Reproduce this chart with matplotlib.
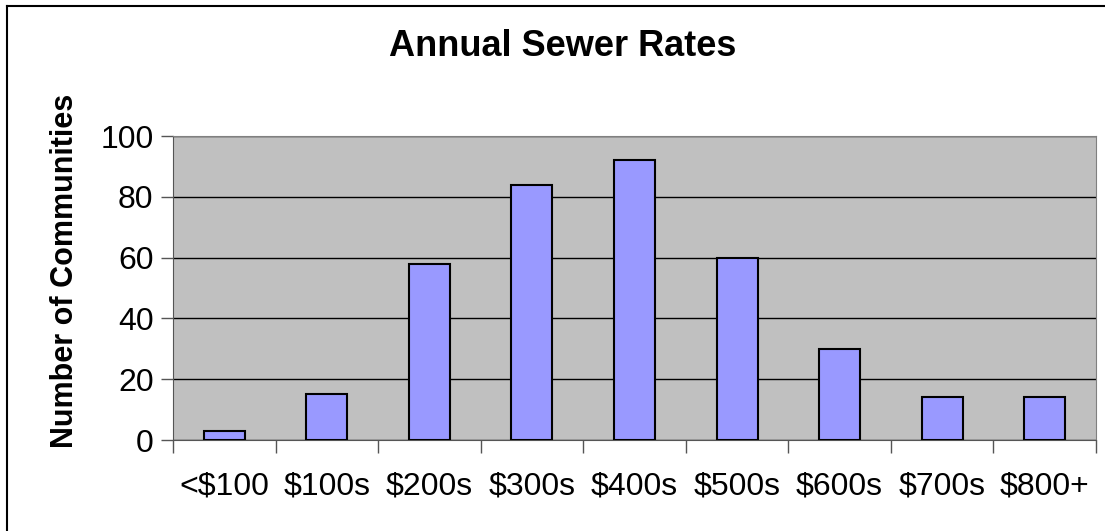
import matplotlib
matplotlib.use("Agg")
import matplotlib.pyplot as plt
from matplotlib.lines import Line2D
import numpy as np

categories = ["<$100", "$100s", "$200s", "$300s", "$400s", "$500s", "$600s", "$700s", "$800+"]
counts = [3, 15, 58, 84, 92, 60, 30, 14, 14]
y_ticks = [0, 20, 40, 60, 80, 100]

plt.rcParams["font.family"] = ["Liberation Sans", "DejaVu Sans"]

fig = plt.figure(figsize=(11.05, 5.31), dpi=100)
ax = fig.add_axes([173 / 1105, 1 - 440 / 531, (1096 - 173) / 1105, (440 - 136) / 531])

x = np.arange(len(categories))
ax.set_facecolor("#c0c0c0")
ax.bar(x, counts, width=0.4, color="#9999ff", edgecolor="black", linewidth=1.5, zorder=3)

ax.set_xlim(-0.5, len(categories) - 0.5)
ax.set_ylim(0, 100)
ax.set_yticks(y_ticks)
ax.set_yticklabels([str(v) for v in y_ticks], fontsize=23)
ax.yaxis.grid(True, color="black", linewidth=1, zorder=1)

ax.set_xticks(x)
ax.set_xticklabels(categories, fontsize=23)
ax.set_xticks(np.arange(len(categories) + 1) - 0.5, minor=True)
ax.tick_params(axis="x", which="major", length=0, pad=23)
ax.tick_params(axis="x", which="minor", length=9, width=1, color="#555555", direction="out")
ax.tick_params(axis="y", length=9, width=1, color="#555555", direction="out", pad=5)

for side in ["top", "right"]:
    ax.spines[side].set_color("#808080")
for side in ["left", "bottom"]:
    ax.spines[side].set_color("#555555")

# title and axis label sit relative to the whole chart area, not the plot area
fig.text(563 / 1105, 1 - 47 / 531, "Annual Sewer Rates", fontsize=26, fontweight="bold",
         ha="center", va="center")
fig.text(65 / 1105, 1 - 271 / 531, "Number of Communities", fontsize=22, fontweight="bold",
         rotation=90, ha="center", va="center")

# outer chart frame (left and top edges visible)
fig.add_artist(Line2D([7 / 1105, 7 / 1105], [0, 1 - 6 / 531], transform=fig.transFigure, color="black", linewidth=1.5))
fig.add_artist(Line2D([7 / 1105, 1], [1 - 6 / 531, 1 - 6 / 531], transform=fig.transFigure, color="black", linewidth=1.5))

fig.savefig("out.png", dpi=100)
